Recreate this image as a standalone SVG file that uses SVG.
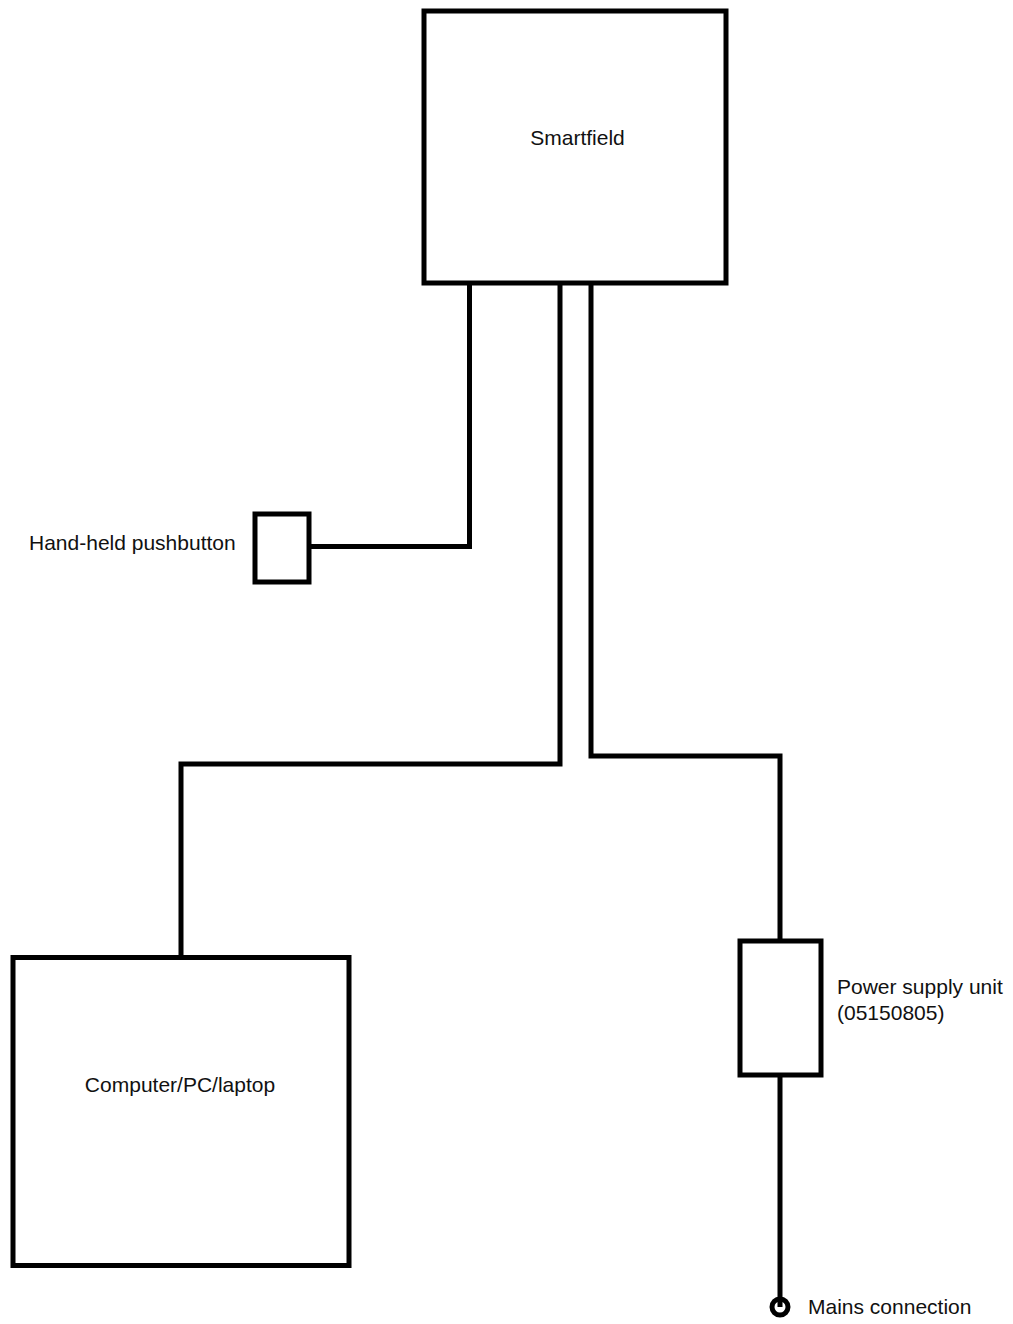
<svg xmlns="http://www.w3.org/2000/svg" width="1013" height="1324" viewBox="0 0 1013 1324">
<style>
.box{fill:#fff;stroke:#000;stroke-width:5}
.wire{fill:none;stroke:#000;stroke-width:5;stroke-linejoin:miter;stroke-linecap:butt}
.lbl{font-family:"Liberation Sans",Arial,sans-serif;font-size:21px;fill:#111}
</style>
<rect width="1013" height="1324" fill="#fff"/>
<g id="connectors">
<polyline class="wire" points="469.5,283 469.5,546.5 309,546.5"/>
<polyline class="wire" points="560,283 560,764 181,764 181,957"/>
<polyline class="wire" points="591,283 591,756 780,756 780,941"/>
<polyline class="wire" points="780,1075 780,1307"/>
</g>
<g id="smartfield">
<rect class="box" x="424" y="11" width="302" height="272"/>
<text class="lbl" x="577.5" y="145" text-anchor="middle">Smartfield</text>
</g>
<g id="pushbutton">
<rect class="box" x="255" y="514" width="54" height="68"/>
<text class="lbl" x="29" y="550">Hand-held pushbutton</text>
</g>
<g id="computer">
<rect class="box" x="13" y="957.5" width="336" height="308"/>
<text class="lbl" x="180" y="1092" text-anchor="middle">Computer/PC/laptop</text>
</g>
<g id="psu">
<rect class="box" x="740" y="941" width="81" height="134"/>
<text class="lbl" x="837" y="994">Power supply unit</text>
<text class="lbl" x="837" y="1020">(05150805)</text>
</g>
<g id="mains">
<circle cx="780" cy="1307" r="8" fill="none" stroke="#000" stroke-width="5"/>
<text class="lbl" x="808" y="1314">Mains connection</text>
</g>
</svg>
